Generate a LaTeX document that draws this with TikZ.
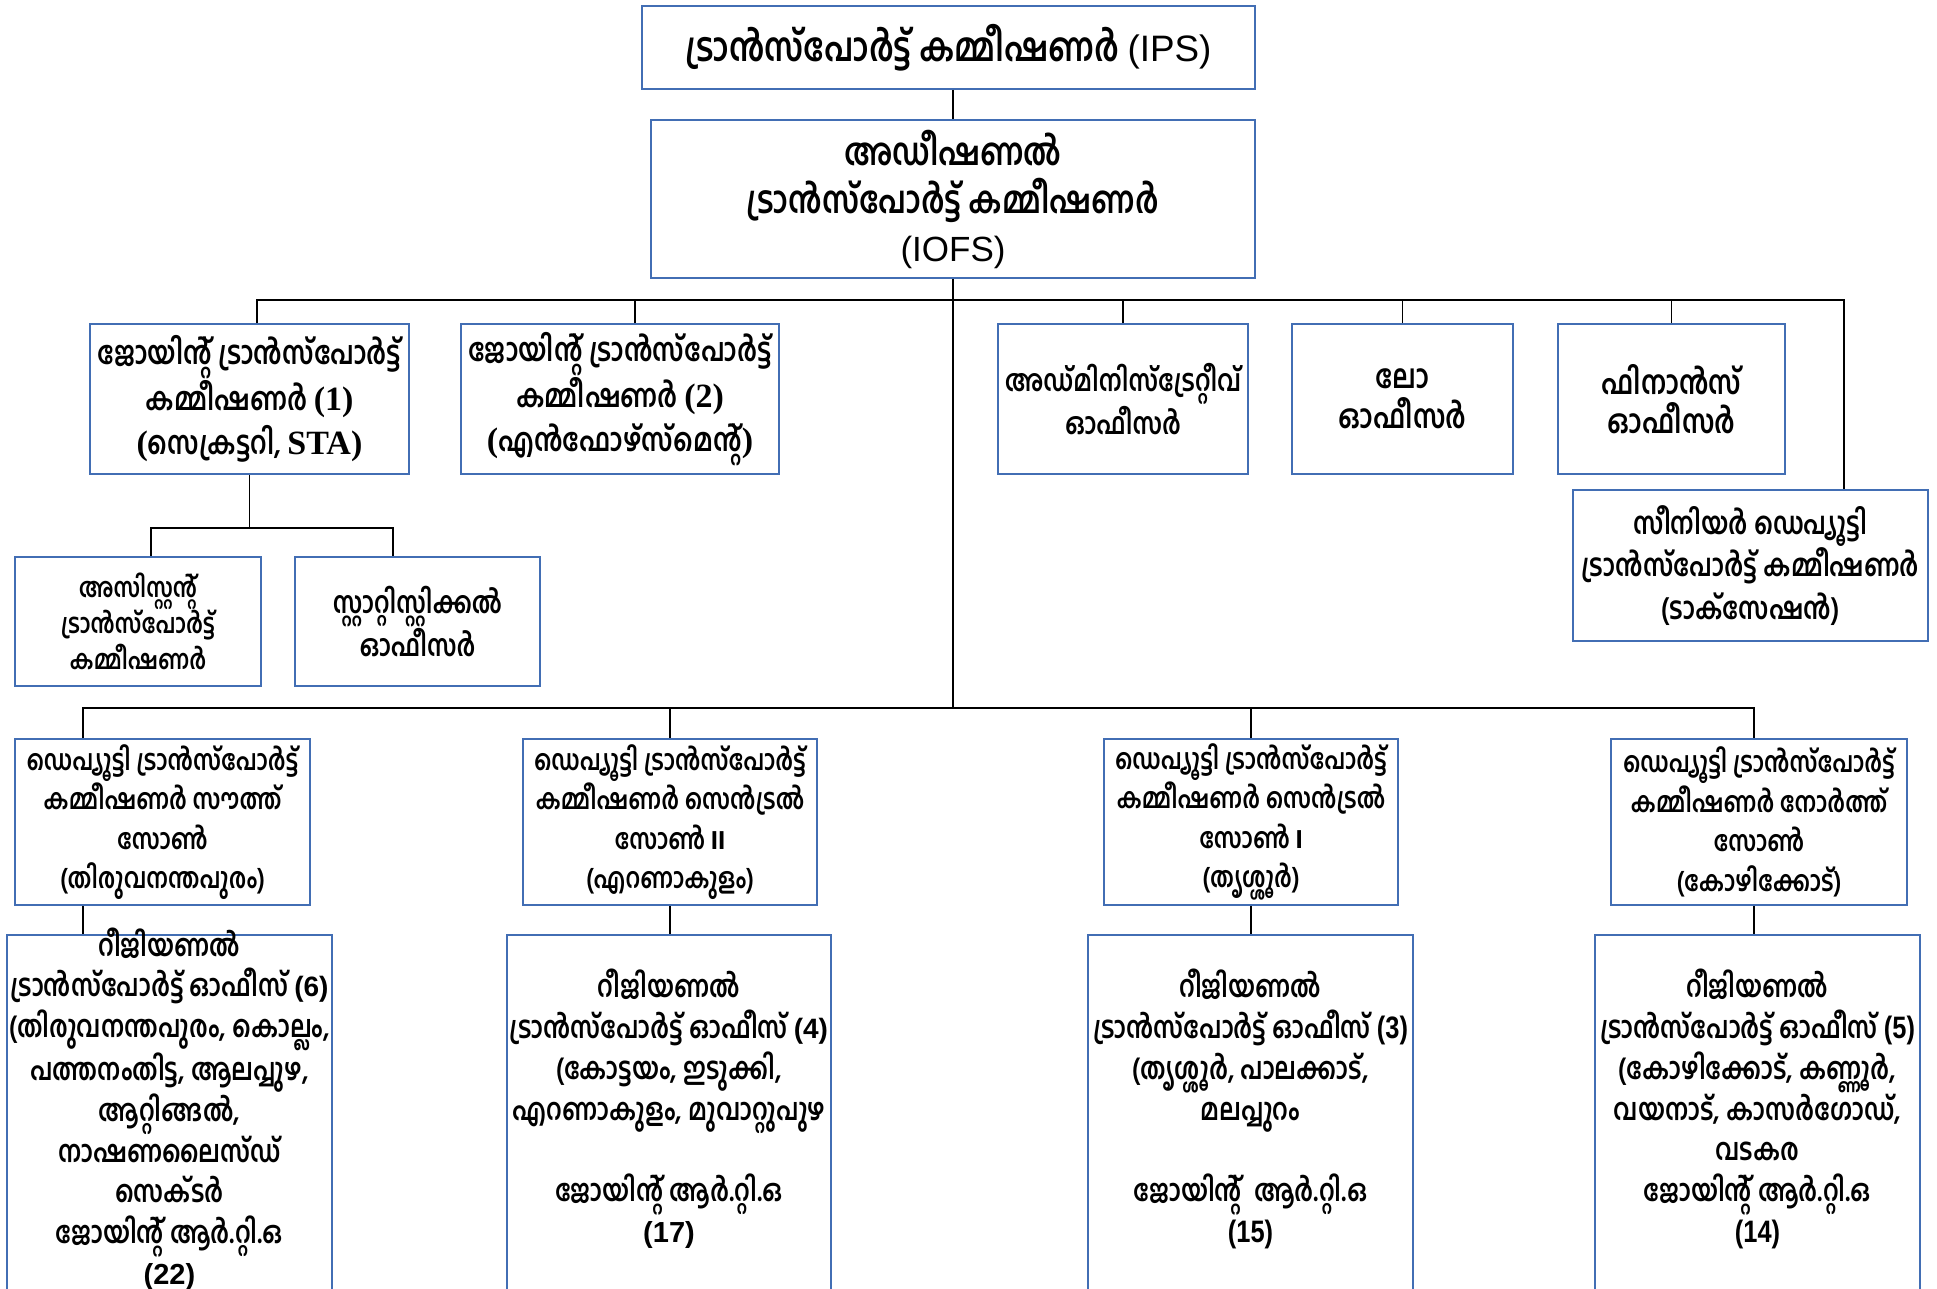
\documentclass[tikz,border=0pt]{standalone}
\usepackage{fontspec}
\usetikzlibrary{positioning}
\newfontfamily\mlfont[Script=Malayalam, FakeStretch=0.8]{Hind Kochi}
\newfontfamily\arialfont{Liberation Sans}
\newfontfamily\narrowfont[FakeStretch=0.82, UprightFont=* Bold]{Liberation Sans}
\newfontfamily\timesfont{Liberation Serif}
\definecolor{boxblue}{RGB}{66,110,180}

\begin{document}
\begin{tikzpicture}[x=0.5pt, y=-0.5pt,
  box/.style={draw=boxblue, line width=1pt, align=center, inner sep=0pt},
  hd/.style={font=\mlfont\bfseries\fontsize{18.8}{24}\selectfont},
  jt/.style={font=\mlfont\bfseries\fontsize{16}{22}\selectfont},
  of/.style={font=\mlfont\bfseries\fontsize{16.5}{19.8}\selectfont},
  sd/.style={font=\mlfont\bfseries\fontsize{15.4}{21.3}\selectfont},
  as/.style={font=\mlfont\bfseries\fontsize{13.5}{17.9}\selectfont},
  dp/.style={font=\mlfont\bfseries\fontsize{14.2}{19.8}\selectfont},
  rt/.style={align=center, inner sep=0pt, font=\mlfont\bfseries\fontsize{15.2}{20.4}\selectfont},
  link/.style={line width=0.9pt}]
\clip (0,0) rectangle (1937,1289);

% commissioner and additional commissioner
\node[box, hd, font=\mlfont\bfseries\fontsize{19.8}{24}\selectfont, minimum width=306.5pt, minimum height=41.5pt] (ips) at (948.5,47.5) {ട്രാൻസ്പോർട്ട് കമ്മീഷണർ {\arialfont\mdseries\fontsize{18.4}{24}\selectfont (IPS)}};
\node[box, hd, minimum width=302pt, minimum height=79pt] (addl) at (953,199) {അഡീഷണൽ\\ട്രാൻസ്പോർട്ട് കമ്മീഷണർ\\{\arialfont\mdseries\fontsize{17.5}{24}\selectfont (IOFS)}};

% second row
\node[box, jt, minimum width=159.5pt, minimum height=75pt] (jtcA) at (249.5,399) {ജോയിന്റ് ട്രാൻസ്പോർട്ട്\\കമ്മീഷണർ {\timesfont\fontsize{17}{22}\selectfont (1)}\\{\timesfont\fontsize{17}{22}\selectfont(}സെക്രട്ടറി, {\timesfont\fontsize{17}{22}\selectfont STA)}};
\node[box, jt, minimum width=159pt, minimum height=75pt] (jtcB) at (620,399) {ജോയിന്റ് ട്രാൻസ്പോർട്ട്\\കമ്മീഷണർ {\timesfont\fontsize{17}{22}\selectfont (2)}\\{\timesfont\fontsize{17}{22}\selectfont(}എൻഫോഴ്സ്‌മെന്റ്{\timesfont\fontsize{17}{22}\selectfont)}};
\node[box, of, font=\mlfont\bfseries\fontsize{15}{19.8}\selectfont, minimum width=125pt, minimum height=75pt] (adm) at (1123,399) {അഡ്മിനിസ്ട്രേറ്റീവ്\\ഓഫീസർ};
\node[box, of, minimum width=110.5pt, minimum height=75pt] (law) at (1402.5,399) {ലോ\\ഓഫീസർ};
\node[box, of, minimum width=113.5pt, minimum height=75pt] (fin) at (1671.5,399) {ഫിനാൻസ്\\ഓഫീസർ};
\node[box, sd, minimum width=177.5pt, minimum height=75.5pt] (sdtc) at (1750.5,565.5) {സീനിയർ ഡെപ്യൂട്ടി\\ട്രാൻസ്പോർട്ട് കമ്മീഷണർ\\(ടാക്സേഷൻ)};

% under joint commissioner (1)
\node[box, as, minimum width=123pt, minimum height=64.5pt] (atc) at (138,621.5) {അസിസ്റ്റന്റ്\\ട്രാൻസ്പോർട്ട്\\കമ്മീഷണർ};
\node[box, as, font=\mlfont\bfseries\fontsize{15}{17.9}\selectfont, minimum width=122.5pt, minimum height=64.5pt] (stat) at (417.5,621.5) {സ്റ്റാറ്റിസ്റ്റിക്കൽ\\ഓഫീസർ};

% deputy commissioners
\node[box, dp, minimum width=147.5pt, minimum height=83pt] (dtcS) at (162.5,822) {ഡെപ്യൂട്ടി ട്രാൻസ്പോർട്ട്\\കമ്മീഷണർ സൗത്ത്\\സോൺ\\(തിരുവനന്തപുരം)};
\node[box, dp, minimum width=147pt, minimum height=83pt] (dtcCII) at (670,822) {ഡെപ്യൂട്ടി ട്രാൻസ്പോർട്ട്\\കമ്മീഷണർ സെൻട്രൽ\\സോൺ {\arialfont\fontsize{13}{19.8}\selectfont II}\\(എറണാകുളം)};
\node[box, dp, minimum width=147pt, minimum height=83pt] (dtcCI) at (1251,822) {ഡെപ്യൂട്ടി ട്രാൻസ്പോർട്ട്\\കമ്മീഷണർ സെൻട്രൽ\\സോൺ {\arialfont\fontsize{13}{19.8}\selectfont I}\\(തൃശ്ശൂർ)};
\node[box, dp, minimum width=148pt, minimum height=83pt] (dtcN) at (1759,822) {ഡെപ്യൂട്ടി ട്രാൻസ്പോർട്ട്\\കമ്മീഷണർ നോർത്ത്\\സോൺ\\(കോഴിക്കോട്)};

% regional offices (run off the bottom)
\node[box, minimum width=162.5pt, minimum height=200pt] (rtoS) at (169.5,1135) {};
\node[box, minimum width=162pt, minimum height=200pt] (rtoCII) at (669,1135) {};
\node[box, minimum width=162.5pt, minimum height=200pt] (rtoCI) at (1250.5,1135) {};
\node[box, minimum width=162.5pt, minimum height=200pt] (rtoN) at (1757.5,1135) {};
\node[rt] (rtoSt) at ([yshift=-87.5pt]rtoS.north) {റീജിയണൽ\\ട്രാൻസ്പോർട്ട് ഓഫീസ് {\arialfont\fontsize{14}{20.4}\selectfont (6)}\\(തിരുവനന്തപുരം, കൊല്ലം,\\പത്തനംതിട്ട, ആലപ്പുഴ,\\ആറ്റിങ്ങൽ,\\നാഷണലൈസ്‌ഡ്\\സെക്ടർ\\ജോയിന്റ് ആർ.റ്റി.ഒ\\{\arialfont\fontsize{14.5}{20.4}\selectfont (22)}};
\node[rt] (rtoCIIt) at ([yshift=-87.5pt]rtoCII.north) {റീജിയണൽ\\ട്രാൻസ്പോർട്ട് ഓഫീസ് {\arialfont\fontsize{14}{20.4}\selectfont (4)}\\(കോട്ടയം, ഇടുക്കി,\\എറണാകുളം, മുവാറ്റുപുഴ\\[20.4pt]ജോയിന്റ് ആർ.റ്റി.ഒ\\{\arialfont\fontsize{14.5}{20.4}\selectfont (17)}};
\node[rt] (rtoCIt) at ([yshift=-87.5pt]rtoCI.north) {റീജിയണൽ\\ട്രാൻസ്പോർട്ട് ഓഫീസ് {\narrowfont\fontsize{15.5}{20.4}\selectfont (3)}\\(തൃശ്ശൂർ, പാലക്കാട്,\\മലപ്പുറം\\[20.4pt]ജോയിന്റ്~~ആർ.റ്റി.ഒ\\{\narrowfont\fontsize{15.5}{20.4}\selectfont (15)}};
\node[rt] (rtoNt) at ([yshift=-87.5pt]rtoN.north) {റീജിയണൽ\\ട്രാൻസ്പോർട്ട് ഓഫീസ് {\narrowfont\fontsize{15.5}{20.4}\selectfont (5)}\\(കോഴിക്കോട്, കണ്ണൂർ,\\വയനാട്, കാസർഗോഡ്,\\വടകര\\ജോയിന്റ് ആർ.റ്റി.ഒ\\{\narrowfont\fontsize{15.5}{20.4}\selectfont (14)}};

% connectors
\coordinate (bus1) at (953,300);
\coordinate (bus2) at (953,708);
\draw[link] (ips.south -| addl.north) -- (addl.north);
\draw[link] (addl.south) -- (bus2);
\draw[link] ([xshift=3.75pt]jtcA.north) |- (bus1) -| ([xshift=46.75pt]sdtc.north);
\draw[link] ([xshift=7.5pt]jtcB.north) -- ([xshift=7.5pt]jtcB.north |- bus1);
\draw[link] (adm.north) -- (adm.north |- bus1);
\draw[link] (law.north) -- (law.north |- bus1);
\draw[link] (fin.north) -- (fin.north |- bus1);
\draw[link] (jtcA.south) -- ++(0,53) coordinate (jbus);
\draw[link] ([xshift=6.5pt]atc.north) |- (jbus) -| ([xshift=-12.25pt]stat.north);
\draw[link] ([xshift=-39.75pt]dtcS.north) |- (bus2) -| ([xshift=-2.5pt]dtcN.north);
\draw[link] (dtcCII.north) -- (dtcCII.north |- bus2);
\draw[link] (dtcCI.north) -- (dtcCI.north |- bus2);
\draw[link] ([xshift=-39.75pt]dtcS.south) -- ([xshift=-39.75pt]dtcS.south |- rtoS.north);
\draw[link] (dtcCII.south) -- (dtcCII.south |- rtoCII.north);
\draw[link] (dtcCI.south) -- (dtcCI.south |- rtoCI.north);
\draw[link] ([xshift=-2.5pt]dtcN.south) -- ([xshift=-2.5pt]dtcN.south |- rtoN.north);
\end{tikzpicture}
\end{document}
